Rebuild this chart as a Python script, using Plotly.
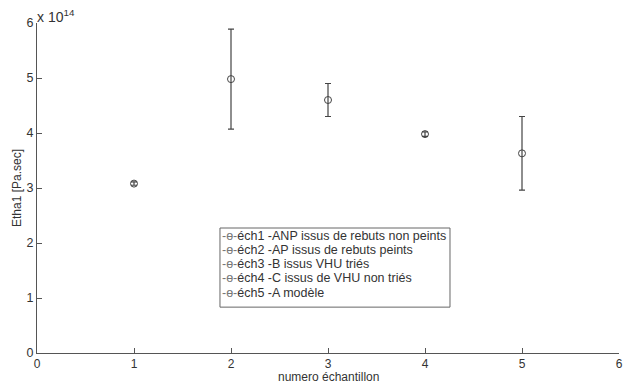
import plotly.graph_objects as go

samples = [1, 2, 3, 4, 5]
names = [
    "éch1 -ANP issus de rebuts non peints",
    "éch2 -AP issus de rebuts peints",
    "éch3 -B issus VHU triés",
    "éch4 -C issus de VHU non triés",
    "éch5 -A modèle",
]
etha_mean = [3.08, 4.98, 4.60, 3.98, 3.63]   # x 1e14
etha_err = [0.03, 0.91, 0.30, 0.04, 0.67]
x_ticks = [0, 1, 2, 3, 4, 5, 6]
y_ticks = [0, 1, 2, 3, 4, 5, 6]
x_title = "numero échantillon"
y_title = "Etha1 [Pa.sec]"

col = "#444444"
fig = go.Figure()
for xv, yv, ev, nm in zip(samples, etha_mean, etha_err, names):
    fig.add_trace(go.Scatter(
        x=[xv], y=[yv], name=nm, mode="lines+markers", showlegend=False,
        marker=dict(symbol="circle-open", size=7, color=col, line=dict(width=1)),
        line=dict(color=col, width=1),
        error_y=dict(type="data", array=[ev], visible=True, color=col, thickness=1.2, width=3),
    ))

# MATLAB-style compact legend: framed box + one text line per entry
plot_h = 330.0
leg_x0, leg_x1 = 0.3144, 0.7096
leg_top_px = 125.0  # distance from axis bottom to legend top, px
line_gap = 14.3
annots = [
    dict(text="x 10<sup>14</sup>", xref="paper", yref="paper", x=0, y=1,
         xanchor="left", yanchor="bottom", showarrow=False,
         font=dict(size=14, color="#333333"), xshift=-2, yshift=-4),
    dict(text=x_title, xref="paper", yref="paper", x=0.5, y=0,
         xanchor="center", yanchor="top", showarrow=False,
         font=dict(size=12, color="#333333"), yshift=-15),
]
for i, nm in enumerate(names):
    annots.append(dict(
        text="<span style='color:#777777'>-ө-</span>" + nm,
        xref="paper", yref="paper", x=leg_x0,
        y=(leg_top_px - 7.5 - i * line_gap) / plot_h,
        xanchor="left", yanchor="middle", align="left", showarrow=False,
        font=dict(size=12.5, color="#333333"), xshift=0))

fig.update_layout(
    width=630, height=383,
    margin=dict(l=37, r=11, t=23, b=30),
    paper_bgcolor="white", plot_bgcolor="white",
    font=dict(family="Liberation Sans, Arial, sans-serif", size=12, color="#333333"),
    showlegend=False,
    xaxis=dict(range=[0, 6], tickvals=x_ticks, ticks="inside", ticklen=5, automargin=False,
               tickcolor="#555555", showline=True, linecolor="#555555", linewidth=1,
               showgrid=False, zeroline=False, tickfont=dict(size=12)),
    yaxis=dict(range=[0, 6], tickvals=y_ticks, ticks="inside", ticklen=5, automargin=False,
               tickcolor="#555555", showline=True, linecolor="#555555", linewidth=1,
               showgrid=False, zeroline=False,
               title=dict(text=y_title, standoff=2, font=dict(size=12)),
               tickfont=dict(size=12.5)),
    shapes=[dict(type="rect", xref="paper", yref="paper", x0=leg_x0, x1=leg_x1,
                 y0=0.139, y1=leg_top_px / plot_h, line=dict(color="#666666", width=1),
                 fillcolor="white", layer="above")],
    annotations=annots,
)

fig.write_html("out.html", config={"displayModeBar": False},
               post_script="document.body.style.margin='0';document.body.style.padding='0';")
